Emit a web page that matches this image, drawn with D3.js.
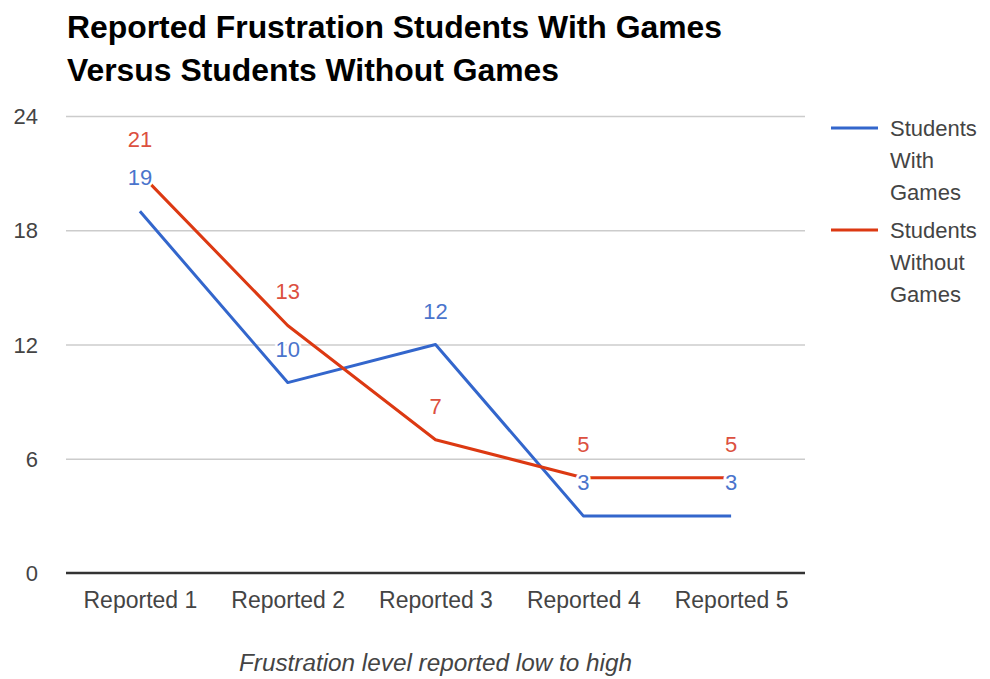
<!DOCTYPE html>
<html><head><meta charset="utf-8">
<script src="https://cdn.jsdelivr.net/npm/d3@7"></script>
<style>body{margin:0;background:#fff}svg{display:block;font-family:Arial,"Liberation Sans",sans-serif}</style>
</head><body><svg id="c" width="990" height="679"></svg>
<script>
const categories = ["Reported 1","Reported 2","Reported 3","Reported 4","Reported 5"];
const withGames = [19,10,12,3,3];
const withoutGames = [21,13,7,5,5];
const seriesNames = [["Students","With","Games"],["Students","Without","Games"]];
const yTicks = [0,6,12,18,24];
const titleLines = ["Reported Frustration Students With Games","Versus Students Without Games"];
const xTitle = "Frustration level reported low to high";

(function(){
const colors = ["#3366cc","#dc3912"];
const labelColors = ["#4a74cc","#dc5040"];
const svg = d3.select("#c");
const pl = 66, pr = 805, pt = 116, pb = 573;
const x = d3.scalePoint().domain(categories).range([pl, pr]).padding(0.5);
const y = d3.scaleLinear().domain([0,24]).range([pb, pt]);

// title
svg.selectAll("text.title").data(titleLines).enter().append("text")
  .attr("x", 67).attr("y", (d,i)=>38+i*43)
  .attr("font-size", 31).attr("font-weight","bold").attr("fill","#000")
  .attr("textLength",(d,i)=>i===0?655:492).attr("lengthAdjust","spacingAndGlyphs")
  .text(d=>d);

// grid
const yAxis = d3.axisLeft(y).tickValues(yTicks).tickSize(-(pr-pl)).tickPadding(28);
const gy = svg.append("g").attr("transform",`translate(${pl},0)`).call(yAxis);
gy.select(".domain").remove();
gy.selectAll(".tick line").attr("stroke","#cccccc").attr("stroke-width",1.3);
gy.selectAll(".tick text").attr("font-size",22).attr("fill","#444").attr("font-family","Arial,'Liberation Sans',sans-serif").attr("x",-28).attr("dy","0.35em");
gy.selectAll(".tick").filter(d=>d===0).select("line").remove();

// x axis
const xAxis = d3.axisBottom(x).tickSize(0).tickPadding(19);
const gx = svg.append("g").attr("transform",`translate(0,${pb})`).call(xAxis);
gx.select(".domain").attr("stroke","#333").attr("stroke-width",2.5).attr("d",`M${pl},0H${pr}`);
gx.selectAll(".tick text").attr("font-size",23).attr("fill","#444").attr("font-family","Arial,'Liberation Sans',sans-serif").attr("dy","0.71em");

svg.append("text").attr("x",(pl+pr)/2).attr("y",671).attr("text-anchor","middle")
  .attr("font-size",23).attr("font-style","italic").attr("fill","#444")
  .attr("textLength",393).attr("lengthAdjust","spacingAndGlyphs").text(xTitle);

// lines
const series = [withGames, withoutGames];
const line = d3.line().x((d,i)=>x(categories[i])).y(d=>y(d));
svg.selectAll("path.series").data(series).enter().append("path")
  .attr("fill","none").attr("stroke",(d,i)=>colors[i]).attr("stroke-width",3)
  .attr("stroke-linejoin","round").attr("d",line);

// labels (red first, blue on top)
[1,0].forEach(si=>{
  svg.append("g").selectAll("text").data(series[si]).enter().append("text")
    .attr("x",(d,i)=>x(categories[i])).attr("y",d=>y(d)-26)
    .attr("text-anchor","middle").attr("font-size",22)
    .attr("fill",labelColors[si]).attr("stroke","#fff").attr("stroke-width",5)
    .attr("paint-order","stroke").attr("stroke-linejoin","round")
    .text(d=>d);
});

// legend
const lg = svg.append("g");
seriesNames.forEach((names,i)=>{
  const y0 = 128 + i*102;
  lg.append("line").attr("x1",831).attr("x2",878).attr("y1",y0).attr("y2",y0)
    .attr("stroke",colors[i]).attr("stroke-width",3);
  names.forEach((n,j)=>{
    lg.append("text").attr("x",890).attr("y",y0+8+j*32).attr("font-size",22)
      .attr("fill","#444").text(n);
  });
});
})();
</script></body></html>
